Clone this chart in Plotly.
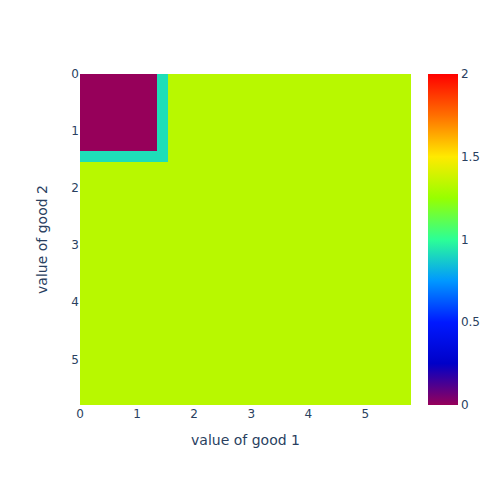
import plotly.graph_objects as go


# GRID OF GOOD VALUES (cell edges)

good1_edges = [0, 0.19, 0.39, 0.58, 0.77, 0.97, 1.16, 1.35, 1.55, 1.74,
               1.93, 2.13, 2.32, 2.51, 2.71, 2.9, 3.09, 3.29, 3.48, 3.67,
               3.87, 4.06, 4.25, 4.45, 4.64, 4.83, 5.03, 5.22, 5.41, 5.61, 5.8]

good2_edges = [0, 0.19, 0.39, 0.58, 0.77, 0.97, 1.16, 1.35, 1.55, 1.74,
               1.93, 2.13, 2.32, 2.51, 2.71, 2.9, 3.09, 3.29, 3.48, 3.67,
               3.87, 4.06, 4.25, 4.45, 4.64, 4.83, 5.03, 5.22, 5.41, 5.61, 5.8]

# cell values per row
row_low = [0] * 7 + [0.92] + [1.33] * 22
row_mid = [0.92] * 8 + [1.33] * 22
row_high = [1.33] * 30

z = [row_low] * 7 + [row_mid] + [row_high] * 22


fig = go.Figure(

    go.Heatmap(

        x=good1_edges,

        y=good2_edges,

        z=z,

        colorscale="Rainbow",

        zmin=0,

        zmax=2,

        colorbar=dict(dtick=0.5, ypad=0)
    )
)

fig.update_layout(

    width=500,

    height=500,

    template="plotly",

    font=dict(family="Verdana, DejaVu Sans, sans-serif"),

    margin=dict(l=72, r=97, t=66, b=103, autoexpand=False),

    xaxis=dict(title="value of good 1", dtick=1, automargin=False),

    yaxis=dict(title=dict(text="value of good 2", standoff=20), dtick=1,
               autorange="reversed", automargin=False)
)

fig.write_html("out.html")
